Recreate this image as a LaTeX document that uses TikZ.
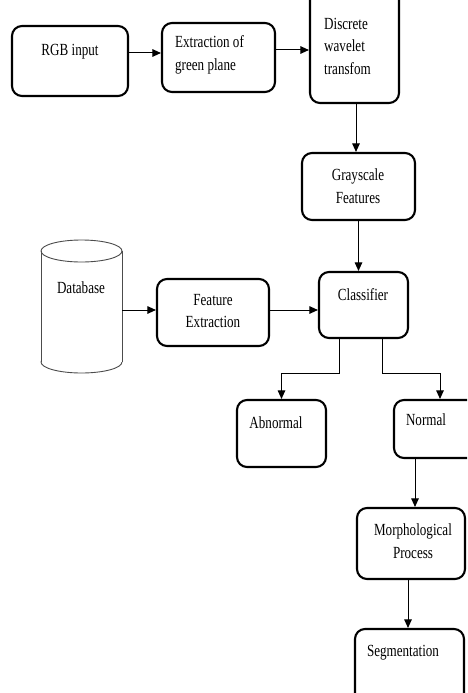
\documentclass[tikz,border=0pt]{standalone}
\usepackage{fontspec}
\setmainfont[FakeStretch=0.77]{Liberation Serif}
\usetikzlibrary{fit,arrows.meta}
\begin{document}
\begin{tikzpicture}[x=1pt,y=-1pt,
  box/.style={draw, line width=2.1pt, rounded corners=10pt, inner sep=0pt},
  lbl/.style={font=\fontsize{17}{22.5}\selectfont, inner sep=0pt, align=center},
  lbll/.style={font=\fontsize{17}{22.5}\selectfont, inner sep=0pt, align=left, anchor=west},
  conn/.style={line width=1pt, -{Triangle[length=8.5pt,width=7.5pt]}}]
\useasboundingbox (0,0) rectangle (467,693);
\clip (0,0) rectangle (467,693);
% boxes
\node[box, fit={(12,26) (128,96)}] (rgb) {};
\node[box, fit={(162,23) (275,92)}] (ext) {};
\node[box, fit={(310,-20) (399,103)}] (dwt) {};
\node[box, fit={(302,153) (415,220)}] (gray) {};
\node[box, fit={(319,272) (408,338)}] (cls) {};
\node[box, fit={(157,279) (269,346)}] (fe) {};
\node[box, fit={(237,400) (326,467)}] (abn) {};
\node[box, fit={(394,400) (490,458)}] (nrm) {};
\node[box, fit={(357,508) (465,579)}] (mor) {};
\node[box, fit={(355,629) (464,720)}] (seg) {};
% database cylinder
\draw[gray!60!black, line width=0.9pt] (81.5,362) ellipse [x radius=40.5, y radius=11];
\fill[white] (41.5,251) rectangle (121.5,362);
\draw[gray!60!black, line width=0.9pt] (41,251) -- (41,362) (122,251) -- (122,362);
\draw[gray!60!black, line width=0.9pt] (81.5,251) ellipse [x radius=40.5, y radius=11];
\node[fit={(41,240) (122,373)}, inner sep=0pt] (db) {};
% texts
\node[lbl] (trgb) at (70,52) {RGB input};
\node[lbll] (text) at (175,55) {Extraction of\\green plane};
\node[lbll] (tdwt) at (324,46) {Discrete\\wavelet\\transfom};
\node[lbl] (tgray) at (358,186) {Grayscale\\Features};
\node[lbl] (tdb) at (81,288) {Database};
\node[lbl] (tfe) at (213,311) {Feature\\Extraction};
\node[lbl] (tcls) at (363,295) {Classifier};
\node[lbl] (tabn) at (276,423) {Abnormal};
\node[lbl] (tnrm) at (426,420) {Normal};
\node[lbl] (tmor) at (413,541) {Morphological\\Process};
\node[lbl] (tseg) at (403,653) {Segmentation};
% helper coordinates
\coordinate (y53) at (0,53);
\coordinate (y50) at (0,50);
\coordinate (y310) at (0,310);
\coordinate (x339) at (339,0);
\coordinate (x382) at (382,0);
\coordinate (x440) at (440,0);
\coordinate (x415) at (415,0);
\coordinate (x408) at (408,0);
\coordinate (x356) at (356,0);
% connectors
\draw[conn] (rgb.east |- y53) -- (ext.west |- y53);
\draw[conn] (ext.east |- y50) -- (dwt.west |- y50);
\draw[conn] (dwt.south -| x356) -- (gray.north -| x356);
\draw[conn] (gray.south) -- (gray.south |- cls.north);
\draw[conn] (db.east |- y310) -- (fe.west |- y310);
\draw[conn] (fe.east |- y310) -- (cls.west |- y310);
\draw[conn] (cls.south -| x339) -- ++(0,34) -| (abn.north);
\draw[conn] (cls.south -| x382) -- ++(0,34) -| (nrm.north -| x440);
\draw[conn] (nrm.south -| x415) -- (mor.north -| x415);
\draw[conn] (mor.south -| x408) -- (seg.north -| x408);
\end{tikzpicture}
\end{document}
